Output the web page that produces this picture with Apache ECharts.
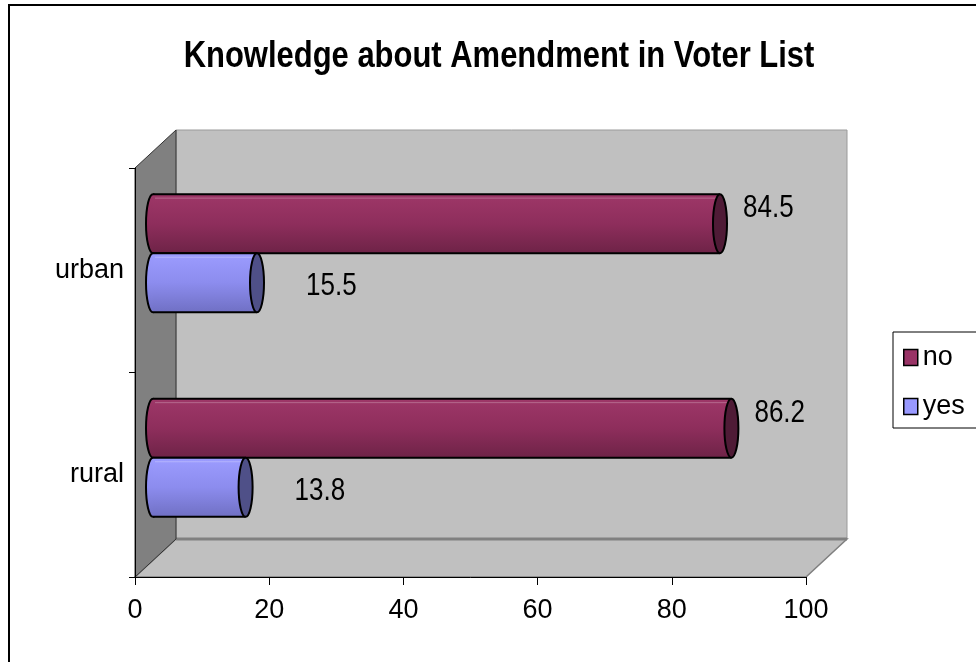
<!DOCTYPE html>
<html><head><meta charset="utf-8">
<script src="https://cdn.jsdelivr.net/npm/echarts@6/dist/echarts.min.js"></script>
<style>html,body{margin:0;padding:0;background:#fff}#c{width:976px;height:662px}</style>
</head><body><div id="c"></div>
<script>
const titleText = 'Knowledge about Amendment in Voter List';
const categories = ['rural', 'urban'];
const seriesNames = ['no', 'yes'];
const noValues = [86.2, 84.5];
const yesValues = [13.8, 15.5];
const xTicks = [0, 20, 40, 60, 80, 100];

const FONT = '"Liberation Sans", Arial, sans-serif';
const NARROW = 0.84;       // reference text is horizontally condensed
const DX = 41, DY = -38;   // wall depth
const BX = 18, BY = -17;   // bar depth offset
const BAR_FRAC = 0.289;
const RX = 7;

const styles = {
  no:  {top:'#9e3768', mid:'#8e2e5c', bot:'#6e2347', cap:'#4f1b36', gap:16, dy:-15},
  yes: {top:'#9c9cff', mid:'#8c8cee', bot:'#7070c4', cap:'#4f5088', gap:42, dy:4}
};

function wallsItem(params, api) {
  const cs = params.coordSys;
  const L = cs.x, T = cs.y, R = cs.x + cs.width, B = cs.y + cs.height;
  return {type:'group', children:[
    {type:'polygon', shape:{points:[[L+DX,T+DY],[R+DX,T+DY],[R+DX,B+DY],[L+DX,B+DY]]},
      style:{fill:'#c0c0c0', stroke:'#9a9a9a', lineWidth:1}},
    {type:'polygon', shape:{points:[[L,B],[L+DX,B+DY],[R+DX,B+DY],[R,B]]},
      style:{fill:'#c0c0c0', stroke:'#808080', lineWidth:1.5}},
    {type:'line', shape:{x1:L+DX, y1:B+DY, x2:R+DX, y2:B+DY}, style:{stroke:'#808080', lineWidth:3}},
    {type:'polygon', shape:{points:[[L,T],[L+DX,T+DY],[L+DX,B+DY],[L,B]]},
      style:{fill:'#808080', stroke:'#333', lineWidth:1}}
  ]};
}

function cylinder(name, which) {
  const s = styles[name];
  return function(params, api) {
    const v = api.value(0), c = api.value(1);
    const p0 = api.coord([0, c]), p1 = api.coord([v, c]);
    const band = api.size([0, 1])[1];
    const t = band * BAR_FRAC;
    const cy = p0[1] + BY;
    const y0 = which === 0 ? cy - t : cy;
    const x0 = p0[0] + BX, x1 = p1[0] + BX;
    const ry = t / 2, ym = y0 + ry;
    const grad = {type:'linear', x:0, y:0, x2:0, y2:1, colorStops:[
      {offset:0, color:s.top},{offset:0.5, color:s.mid},{offset:1, color:s.bot}]};
    return {type:'group', children:[
      {type:'ellipse', shape:{cx:x0, cy:ym, rx:RX, ry:ry}, style:{fill:grad, stroke:'#000', lineWidth:2}},
      {type:'rect', shape:{x:x0, y:y0, width:x1-x0, height:t}, style:{fill:grad}},
      {type:'line', shape:{x1:x0, y1:y0, x2:x1, y2:y0}, style:{stroke:'#000', lineWidth:2}},
      {type:'line', shape:{x1:x0, y1:y0+t, x2:x1, y2:y0+t}, style:{stroke:'#000', lineWidth:2}},
      {type:'line', shape:{x1:x0+2, y1:y0+4, x2:x1, y2:y0+4}, style:{stroke:'rgba(255,255,255,0.25)', lineWidth:1}},
      {type:'ellipse', shape:{cx:x1, cy:ym, rx:RX, ry:ry}, style:{fill:s.cap, stroke:'#000', lineWidth:2}},
      {type:'text', x:x1 + RX + s.gap, y:ym + s.dy, scaleX:NARROW,
        style:{text:String(v), fill:'#000', font:'31px ' + FONT, verticalAlign:'middle', align:'left'}}
    ]};
  };
}

const chart = echarts.init(document.getElementById('c'), null, {renderer:'canvas'});
chart.setOption({
  backgroundColor:'#fff',
  animation:false,
  graphic:[
    {type:'rect', shape:{x:9, y:5, width:990, height:700}, style:{fill:'none', stroke:'#000', lineWidth:2}, z:-10},
    {type:'text', x:499, y:57, scaleX:0.86,
      style:{text:titleText, font:'bold 36px ' + FONT, fill:'#000', align:'center', verticalAlign:'middle'}}
  ],
  legend:{data:seriesNames, orient:'vertical', left:893, top:332, padding:[12, 30, 8, 10],
    itemGap:22, itemWidth:14, itemHeight:16, icon:'rect', borderColor:'#000', borderWidth:1,
    backgroundColor:'#fff',
    itemStyle:{borderColor:'#000', borderWidth:1.5},
    textStyle:{fontFamily:FONT, fontSize:27, color:'#000'}},
  grid:{left:135, right:170, top:168, bottom:85},
  xAxis:{type:'value', min:xTicks[0], max:xTicks[xTicks.length-1], interval:xTicks[1]-xTicks[0],
    axisLine:{show:true, lineStyle:{color:'#000', width:1}},
    axisTick:{show:true, length:8, lineStyle:{color:'#000'}},
    splitLine:{show:false},
    axisLabel:{fontFamily:FONT, fontSize:27, color:'#000', margin:20}, z:5},
  yAxis:{type:'category', data:categories,
    axisLine:{show:true, lineStyle:{color:'#000'}},
    axisTick:{show:true, length:6, lineStyle:{color:'#000'}},
    axisLabel:{fontFamily:FONT, fontSize:27, color:'#000', margin:11}, z:5},
  series:[
    {type:'custom', name:'walls', renderItem:wallsItem, data:[[0,0]], z:0, silent:true},
    {type:'custom', name:'no', renderItem:cylinder('no', 0), itemStyle:{color:'#993366'},
      data:noValues.map((v,i)=>[v,i]), encode:{x:0, y:1}, z:3},
    {type:'custom', name:'yes', renderItem:cylinder('yes', 1), itemStyle:{color:'#9999ff'},
      data:yesValues.map((v,i)=>[v,i]), encode:{x:0, y:1}, z:3}
  ]
});
</script></body></html>
